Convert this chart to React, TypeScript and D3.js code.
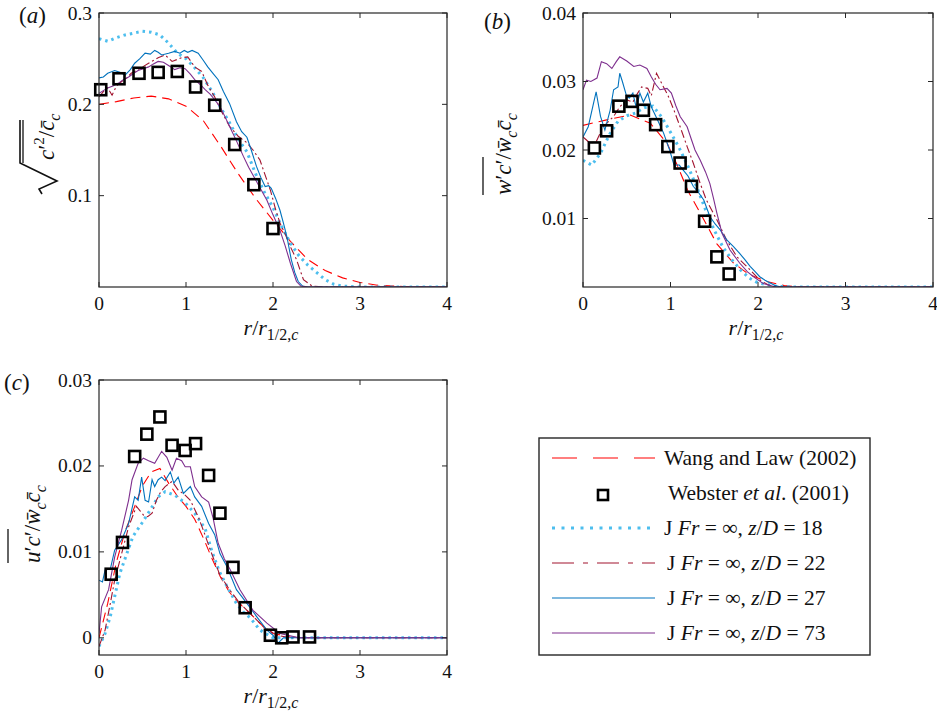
import React from 'react';
import * as d3 from 'd3';

type Pt = [number, number];

// ---- panel (a): rms concentration ----
const aWang: Pt[] = [[0,0.200],[0.2,0.203],[0.4,0.207],[0.6,0.209],[0.8,0.206],[1.0,0.198],[1.2,0.182],[1.4,0.154],[1.6,0.124],[1.8,0.097],[2.0,0.073],[2.2,0.050],[2.4,0.030],[2.6,0.018],[2.8,0.010],[3.0,0.005],[3.2,0.002],[3.5,0.0005],[4,0]];
const aWebster: Pt[] = [[0.02,0.216],[0.23,0.228],[0.46,0.234],[0.68,0.235],[0.90,0.236],[1.11,0.219],[1.33,0.199],[1.56,0.156],[1.78,0.112],[2.0,0.064]];
const aZ18: Pt[] = [[0,0.272],[0.1,0.269],[0.2,0.273],[0.3,0.276],[0.4,0.278],[0.5,0.280],[0.6,0.279],[0.7,0.276],[0.8,0.267],[0.9,0.256],[1.0,0.250],[1.1,0.240],[1.2,0.229],[1.3,0.214],[1.4,0.196],[1.5,0.180],[1.6,0.162],[1.7,0.148],[1.8,0.124],[1.9,0.104],[2.0,0.087],[2.1,0.066],[2.2,0.048],[2.3,0.034],[2.4,0.024],[2.5,0.016],[2.6,0.008],[2.7,0.003],[2.8,0.001],[3.0,0],[4,0]];
const aZ22: Pt[] = [[0,0.208],[0.05,0.214],[0.1,0.218],[0.15,0.210],[0.2,0.220],[0.26,0.225],[0.32,0.229],[0.37,0.234],[0.45,0.238],[0.57,0.245],[0.68,0.251],[0.76,0.254],[0.84,0.247],[0.95,0.251],[1.02,0.252],[1.1,0.241],[1.18,0.236],[1.25,0.221],[1.33,0.208],[1.42,0.190],[1.5,0.176],[1.6,0.165],[1.7,0.158],[1.77,0.150],[1.85,0.139],[1.93,0.117],[1.97,0.106],[2.03,0.085],[2.08,0.070],[2.14,0.058],[2.2,0.044],[2.27,0.030],[2.35,0.008],[2.45,0.001],[2.6,0],[4,0]];
const aZ27: Pt[] = [[0,0.229],[0.05,0.230],[0.1,0.234],[0.18,0.237],[0.24,0.235],[0.3,0.232],[0.36,0.238],[0.41,0.245],[0.47,0.250],[0.53,0.256],[0.59,0.255],[0.64,0.259],[0.68,0.257],[0.72,0.254],[0.8,0.256],[0.87,0.258],[0.93,0.256],[0.98,0.259],[1.02,0.257],[1.07,0.259],[1.14,0.256],[1.2,0.248],[1.25,0.241],[1.31,0.234],[1.37,0.227],[1.43,0.214],[1.5,0.201],[1.58,0.181],[1.64,0.170],[1.70,0.164],[1.75,0.150],[1.81,0.132],[1.86,0.120],[1.91,0.110],[1.95,0.111],[1.98,0.108],[2.03,0.097],[2.08,0.084],[2.12,0.070],[2.16,0.055],[2.21,0.030],[2.25,0.016],[2.29,0.006],[2.34,0.001],[2.4,0],[4,0]];
const aZ73: Pt[] = [[0,0.212],[0.05,0.215],[0.1,0.218],[0.16,0.220],[0.22,0.223],[0.28,0.227],[0.34,0.230],[0.4,0.234],[0.45,0.237],[0.51,0.239],[0.57,0.241],[0.62,0.244],[0.68,0.247],[0.74,0.246],[0.79,0.243],[0.84,0.240],[0.87,0.238],[0.93,0.240],[0.99,0.239],[1.05,0.233],[1.1,0.227],[1.16,0.222],[1.22,0.216],[1.28,0.211],[1.33,0.205],[1.4,0.196],[1.45,0.186],[1.5,0.176],[1.58,0.160],[1.66,0.143],[1.72,0.131],[1.79,0.119],[1.86,0.107],[1.93,0.095],[2.0,0.079],[2.08,0.062],[2.14,0.045],[2.2,0.026],[2.27,0.006],[2.32,0.001],[2.4,0],[4,0]];

// ---- panel (b): axial flux ----
const bWang: Pt[] = [[0,0.0236],[0.27,0.0244],[0.54,0.0251],[0.77,0.0239],[0.96,0.0210],[1.07,0.0180],[1.2,0.0140],[1.34,0.0108],[1.53,0.0063],[1.72,0.0035],[1.9,0.0018],[2.1,0.0008],[2.3,0.0002],[2.5,0],[4,0]];
const bWebster: Pt[] = [[0.13,0.0203],[0.27,0.0228],[0.41,0.0264],[0.56,0.0271],[0.69,0.0258],[0.83,0.0237],[0.97,0.0205],[1.11,0.0181],[1.24,0.0147],[1.39,0.0096],[1.53,0.0044],[1.67,0.0019]];
const bZ18: Pt[] = [[0,0.0185],[0.1,0.0178],[0.2,0.0195],[0.3,0.0222],[0.4,0.0242],[0.5,0.0250],[0.6,0.0254],[0.7,0.0262],[0.8,0.0264],[0.9,0.0248],[1.0,0.0226],[1.1,0.0203],[1.2,0.0176],[1.3,0.0146],[1.4,0.0113],[1.5,0.0083],[1.6,0.0058],[1.7,0.0040],[1.8,0.0025],[1.9,0.0013],[2.0,0.0006],[2.2,0.0001],[2.4,0],[4,0]];
const bZ22: Pt[] = [[0,0.0219],[0.08,0.0210],[0.15,0.0212],[0.23,0.0234],[0.35,0.0249],[0.42,0.0263],[0.5,0.0273],[0.57,0.0270],[0.62,0.0282],[0.67,0.0292],[0.74,0.0290],[0.78,0.0279],[0.84,0.0312],[0.92,0.0292],[0.97,0.0280],[1.04,0.0258],[1.11,0.0234],[1.19,0.0205],[1.26,0.0181],[1.34,0.0151],[1.41,0.0127],[1.53,0.0098],[1.64,0.0069],[1.76,0.0044],[1.91,0.0025],[2.02,0.0010],[2.12,0.0003],[2.2,0],[4,0]];
const bZ27: Pt[] = [[0,0.0219],[0.06,0.0234],[0.12,0.0268],[0.15,0.0285],[0.2,0.0249],[0.25,0.0229],[0.31,0.0258],[0.35,0.0288],[0.4,0.0292],[0.42,0.0312],[0.45,0.0300],[0.5,0.0278],[0.53,0.0276],[0.57,0.0283],[0.61,0.0261],[0.65,0.0283],[0.69,0.0270],[0.74,0.0283],[0.78,0.0263],[0.84,0.0247],[0.92,0.0225],[0.99,0.0200],[1.04,0.0178],[1.1,0.0178],[1.15,0.0170],[1.2,0.0162],[1.26,0.0147],[1.32,0.0138],[1.38,0.0127],[1.45,0.0103],[1.51,0.0092],[1.57,0.0083],[1.64,0.0069],[1.72,0.0059],[1.79,0.0049],[1.85,0.0040],[1.91,0.0030],[1.97,0.0022],[2.02,0.0015],[2.08,0.0010],[2.14,0.0006],[2.2,0.0002],[2.26,0],[4,0]];
const bZ73: Pt[] = [[0,0.0288],[0.04,0.0302],[0.09,0.0300],[0.16,0.0305],[0.21,0.0329],[0.27,0.0326],[0.33,0.0319],[0.38,0.0329],[0.42,0.0336],[0.5,0.0330],[0.58,0.0322],[0.65,0.0324],[0.73,0.0319],[0.78,0.0307],[0.83,0.0296],[0.88,0.0288],[0.96,0.0290],[1.01,0.0283],[1.06,0.0265],[1.11,0.0249],[1.19,0.0234],[1.24,0.0215],[1.28,0.0200],[1.34,0.0185],[1.4,0.0168],[1.45,0.0151],[1.49,0.0130],[1.53,0.0108],[1.59,0.0078],[1.68,0.0054],[1.79,0.0035],[1.88,0.0022],[1.95,0.0015],[2.06,0.0005],[2.2,0],[4,0]];

// ---- panel (c): radial flux ----
const cWang: Pt[] = [[0,0],[0.1,0.0040],[0.2,0.0088],[0.3,0.0124],[0.4,0.0150],[0.5,0.0177],[0.6,0.0193],[0.7,0.0197],[0.8,0.0180],[0.9,0.0165],[1.0,0.0153],[1.1,0.0138],[1.2,0.0116],[1.3,0.0092],[1.4,0.0070],[1.5,0.0053],[1.6,0.0041],[1.7,0.0032],[1.8,0.0022],[1.9,0.0012],[2.0,0.0005],[2.2,0.0001],[2.4,0],[4,0]];
const cWebster: Pt[] = [[0.14,0.0074],[0.27,0.0111],[0.41,0.0211],[0.55,0.0237],[0.70,0.0257],[0.84,0.0224],[0.99,0.0218],[1.11,0.0226],[1.26,0.0189],[1.39,0.0145],[1.54,0.0082],[1.68,0.0035],[1.97,0.0003],[2.1,0.0],[2.23,0.0001],[2.42,0.0001]];
const cZ18: Pt[] = [[0,-0.001],[0.07,0.0005],[0.13,0.0025],[0.18,0.0048],[0.24,0.0075],[0.32,0.0098],[0.39,0.0118],[0.49,0.0133],[0.59,0.0149],[0.68,0.0164],[0.76,0.0170],[0.87,0.0166],[0.99,0.0157],[1.1,0.0145],[1.22,0.0127],[1.3,0.0100],[1.38,0.0078],[1.47,0.0060],[1.58,0.0040],[1.66,0.0030],[1.74,0.0023],[1.85,0.0009],[2.0,0.0],[4,0]];
const cZ22: Pt[] = [[0,-0.001],[0.07,0.0009],[0.13,0.004],[0.18,0.0067],[0.26,0.0098],[0.34,0.0129],[0.43,0.0153],[0.47,0.0148],[0.51,0.0143],[0.56,0.0141],[0.61,0.0145],[0.66,0.0160],[0.71,0.0170],[0.76,0.0176],[0.84,0.0182],[0.91,0.0172],[0.99,0.0166],[1.05,0.0160],[1.14,0.0141],[1.2,0.0125],[1.28,0.0102],[1.39,0.0073],[1.5,0.0056],[1.62,0.0040],[1.77,0.0025],[1.89,0.0013],[2.04,0.0003],[2.2,0],[4,0]];
const cZ27: Pt[] = [[0,0.0067],[0.04,0.0065],[0.07,0.0079],[0.13,0.0080],[0.18,0.0102],[0.26,0.0114],[0.34,0.0133],[0.41,0.0164],[0.45,0.0160],[0.49,0.0187],[0.53,0.0160],[0.57,0.0158],[0.61,0.0184],[0.64,0.0176],[0.68,0.0184],[0.72,0.0187],[0.76,0.0183],[0.82,0.0193],[0.86,0.0180],[0.91,0.0187],[0.97,0.0168],[1.05,0.0176],[1.1,0.0164],[1.18,0.0153],[1.26,0.0133],[1.33,0.0120],[1.39,0.0098],[1.47,0.0083],[1.58,0.0056],[1.7,0.0040],[1.81,0.0025],[1.93,0.0009],[2.0,0.0003],[2.06,-0.0006],[2.12,0.0],[2.2,0],[4,0]];
const cZ73: Pt[] = [[0,0.0005],[0.03,0.0036],[0.11,0.0056],[0.18,0.0094],[0.26,0.0125],[0.34,0.0160],[0.38,0.0184],[0.45,0.0203],[0.51,0.0209],[0.57,0.0206],[0.64,0.0203],[0.72,0.0217],[0.78,0.0210],[0.84,0.0195],[0.89,0.0209],[0.95,0.0206],[0.99,0.0199],[1.05,0.0199],[1.1,0.0176],[1.18,0.0164],[1.26,0.0158],[1.31,0.0140],[1.37,0.0110],[1.44,0.0092],[1.51,0.0079],[1.62,0.0056],[1.77,0.0032],[1.93,0.0017],[2.08,0.0005],[2.3,0],[4,0]];

const xTicks = [0, 1, 2, 3, 4];
const aYTicks = [0.1, 0.2, 0.3];
const bYTicks = [0.01, 0.02, 0.03, 0.04];
const cYTicks = [0, 0.01, 0.02, 0.03];

const zLevels = ['18', '22', '27', '73'];

const RED = '#ff0000';
const LBLUE = '#4dbeee';
const DRED = '#a2142f';
const BLUE = '#0072bd';
const PURPLE = '#7e2f8e';
const AX = '#262626';
const FONT = '"Liberation Serif", "Times New Roman", serif';

const styles = {
  wang: { stroke: RED, width: 1.1, dash: '10,6' },
  z18: { stroke: LBLUE, width: 3, dash: '2.5,4' },
  z22: { stroke: DRED, width: 1.1, dash: '8,3,2,3' },
  z27: { stroke: BLUE, width: 1.1, dash: undefined },
  z73: { stroke: PURPLE, width: 1.1, dash: undefined },
};

type PanelProps = {
  id: string;
  left: number; top: number; width: number; height: number;
  yDomain: [number, number];
  yTicks: number[];
  wang: Pt[]; webster: Pt[]; z18: Pt[]; z22: Pt[]; z27: Pt[]; z73: Pt[];
};

function Panel(p: PanelProps) {
  const x = d3.scaleLinear().domain([0, 4]).range([p.left, p.left + p.width]);
  const y = d3.scaleLinear().domain(p.yDomain).range([p.top + p.height, p.top]);
  const line = d3.line<Pt>().x(d => x(d[0])).y(d => y(d[1]));
  const bottom = p.top + p.height;
  const right = p.left + p.width;
  const tk = 5;
  const series = [
    { d: p.wang, s: styles.wang },
    { d: p.z18, s: styles.z18 },
    { d: p.z22, s: styles.z22 },
    { d: p.z27, s: styles.z27 },
    { d: p.z73, s: styles.z73 },
  ];
  return (
    <g>
      <defs>
        <clipPath id={`clip-${p.id}`}>
          <rect x={p.left} y={p.top - 2} width={p.width} height={p.height + 2} />
        </clipPath>
      </defs>
      <g clipPath={`url(#clip-${p.id})`}>
        {series.map((sr, i) => (
          <path key={i} d={line(sr.d) || ''} fill="none" stroke={sr.s.stroke}
            strokeWidth={sr.s.width} strokeDasharray={sr.s.dash} />
        ))}
      </g>
      {p.webster.map((d, i) => (
        <rect key={i} x={x(d[0]) - 5.5} y={y(d[1]) - 5.5} width={11} height={11}
          fill="none" stroke="#000" strokeWidth={2.6} />
      ))}
      <rect x={p.left} y={p.top} width={p.width} height={p.height} fill="none" stroke={AX} strokeWidth={1.2} />
      {xTicks.map(t => (
        <g key={t}>
          <line x1={x(t)} x2={x(t)} y1={bottom} y2={bottom - tk} stroke={AX} />
          <line x1={x(t)} x2={x(t)} y1={p.top} y2={p.top + tk} stroke={AX} />
          <text x={x(t)} y={bottom + 23} textAnchor="middle" fontSize={19.5} fontFamily={FONT} fill="#111">{t}</text>
        </g>
      ))}
      {p.yTicks.map(t => (
        <g key={t}>
          <line x1={p.left} x2={p.left + tk} y1={y(t)} y2={y(t)} stroke={AX} />
          <line x1={right} x2={right - tk} y1={y(t)} y2={y(t)} stroke={AX} />
          <text x={p.left - 7} y={y(t) + 6.5} textAnchor="end" fontSize={19.5} fontFamily={FONT} fill="#111">{String(t)}</text>
        </g>
      ))}
      <text x={(p.left + right) / 2 - 2} y={bottom + 48} textAnchor="middle" fontSize={22} fontFamily={FONT} fill="#111">
        <tspan fontStyle="italic">r</tspan>/<tspan fontStyle="italic">r</tspan>
        <tspan fontSize={16} dy={5}>1/2,</tspan><tspan fontSize={16} fontStyle="italic">c</tspan>
      </text>
    </g>
  );
}

function Legend() {
  const left = 539, top = 438, w = 331, h = 217;
  const rows = [458, 493, 528, 563, 598, 633];
  const lx1 = 552, lx2 = 655, tx = 664;
  const st = [styles.wang, null, styles.z18, styles.z22, styles.z27, styles.z73];
  const legendDash = ['25,16', undefined, '3,6.5', '22,9,5,9', undefined, undefined];
  return (
    <g fontFamily={FONT} fontSize={21.5} fill="#111">
      <rect x={left} y={top} width={w} height={h} fill="#fff" stroke={AX} strokeWidth={1.4} />
      {rows.map((ry, i) => {
        const s = st[i];
        return (
          <g key={i}>
            {s ? (
              <line x1={lx1} x2={lx2} y1={ry} y2={ry} stroke={s.stroke}
                strokeWidth={i === 2 ? 3 : 1.2} strokeDasharray={legendDash[i]} />
            ) : (
              <rect x={598} y={ry - 3} width={10} height={10} fill="none" stroke="#000" strokeWidth={2.6} />
            )}
            {i === 0 && <text x={tx} y={ry + 7}>Wang and Law (2002)</text>}
            {i === 1 && (
              <text x={tx + 4} y={ry + 7}>Webster <tspan fontStyle="italic">et al</tspan>. (2001)</text>
            )}
            {i >= 2 && (
              <text x={tx + (i === 2 ? 0 : 3)} y={ry + 7}>
                J <tspan fontStyle="italic">Fr</tspan> = ∞, <tspan fontStyle="italic">z</tspan>/<tspan fontStyle="italic">D</tspan>{' = ' + zLevels[i - 2]}
              </text>
            )}
          </g>
        );
      })}
    </g>
  );
}

export default function App() {
  return (
    <svg width={937} height={718} style={{ position: 'absolute', left: 0, top: 0, background: '#fff' }}>
      <rect x={0} y={0} width={937} height={718} fill="#fff" />
      <Panel id="a" left={99} top={13} width={348} height={274} yDomain={[0, 0.3]} yTicks={aYTicks}
        wang={aWang} webster={aWebster} z18={aZ18} z22={aZ22} z27={aZ27} z73={aZ73} />
      <Panel id="b" left={583} top={13} width={350} height={274} yDomain={[0, 0.04]} yTicks={bYTicks}
        wang={bWang} webster={bWebster} z18={bZ18} z22={bZ22} z27={bZ27} z73={bZ73} />
      <Panel id="c" left={99} top={380} width={348} height={275} yDomain={[-0.002, 0.03]} yTicks={cYTicks}
        wang={cWang} webster={cWebster} z18={cZ18} z22={cZ22} z27={cZ27} z73={cZ73} />
      <Legend />

      <g fontFamily={FONT} fontSize={23} fill="#111">
        <text x={19} y={23}>(<tspan fontStyle="italic">a</tspan>)</text>
        <text x={484} y={29}>(<tspan fontStyle="italic">b</tspan>)</text>
        <text x={4} y={390}>(<tspan fontStyle="italic">c</tspan>)</text>
      </g>

      {/* y label (a): sqrt of c'^2 over c-bar_c */}
      <g transform="translate(54,194) rotate(-90)" fontFamily={FONT} fill="#111">
        <path d="M0,-12 L5,-15 L13,3 L31,-34 L74,-34" fill="none" stroke="#111" strokeWidth={1.6} />
        <line x1={31} x2={74} y1={-31} y2={-31} stroke="#111" strokeWidth={1.3} />
        <text x={34} y={0} fontSize={23}>
          <tspan fontStyle="italic">c</tspan>′<tspan fontSize={15} dy={-10}>2</tspan>
          <tspan dy={10}>/</tspan><tspan fontStyle="italic">c̄</tspan>
          <tspan fontSize={16} dy={6} fontStyle="italic">c</tspan>
        </text>
      </g>

      {/* y label (b) */}
      <g transform="translate(511,195) rotate(-90)" fontFamily={FONT} fill="#111">
        <line x1={0} x2={38} y1={-28} y2={-28} stroke="#111" strokeWidth={1.3} />
        <text x={0} y={0} fontSize={23}>
          <tspan fontStyle="italic">w</tspan>′<tspan fontStyle="italic">c</tspan>′/<tspan fontStyle="italic">w̄</tspan>
          <tspan fontSize={16} dy={6} fontStyle="italic">c</tspan>
          <tspan dy={-6} fontStyle="italic">c̄</tspan>
          <tspan fontSize={16} dy={6} fontStyle="italic">c</tspan>
        </text>
      </g>

      {/* y label (c) */}
      <g transform="translate(40,563) rotate(-90)" fontFamily={FONT} fill="#111">
        <line x1={0} x2={34} y1={-32} y2={-32} stroke="#111" strokeWidth={1.3} />
        <text x={0} y={0} fontSize={23}>
          <tspan fontStyle="italic">u</tspan>′<tspan fontStyle="italic">c</tspan>′/<tspan fontStyle="italic">w̄</tspan>
          <tspan fontSize={16} dy={6} fontStyle="italic">c</tspan>
          <tspan dy={-6} fontStyle="italic">c̄</tspan>
          <tspan fontSize={16} dy={6} fontStyle="italic">c</tspan>
        </text>
      </g>
    </svg>
  );
}
